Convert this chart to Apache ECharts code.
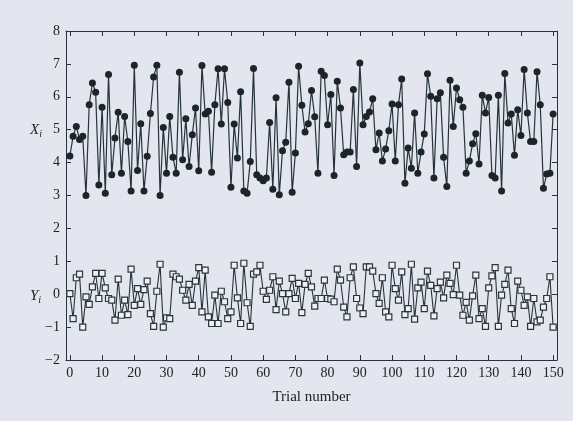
<!DOCTYPE html>
<html lang="en">
<head>
    <meta charset="UTF-8">
    <title>Trial number - X and Y</title>
    <script src="https://cdn.jsdelivr.net/npm/echarts@6/dist/echarts.min.js"></script>
</head>
<style>
    html, body {
        margin: 0;
        padding: 0;
        background-color: #e3e6ee;
    }
    #map {
        width: 573px;
        height: 421px;
    }
</style>
<body>
<div id="map"></div>
<script>
    // values, trial 0..150
    var xValues = [
        4.2, 4.8, 5.1, 4.7, 4.8, 3.0, 5.76, 6.42, 6.14, 3.32, 5.68, 3.07, 6.68, 3.63, 4.75, 5.53, 3.68, 5.4, 4.64, 3.14,
        6.96, 3.76, 5.18, 3.14, 4.19, 5.49, 6.6, 6.96, 3.0, 5.07, 3.68, 5.4, 4.16, 3.68, 6.75, 4.09, 5.33, 3.88, 4.85, 5.66,
        3.75, 6.95, 5.48, 5.56, 3.71, 5.76, 6.85, 5.17, 6.85, 5.83, 3.25, 5.17, 4.14, 6.15, 3.14, 3.07, 4.03, 6.86, 3.63, 3.53,
        3.45, 3.53, 5.22, 3.19, 5.97, 3.02, 4.36, 4.62, 6.44, 3.1, 4.29, 6.93, 5.74, 4.93, 5.18, 6.19, 5.39, 3.68, 6.78, 6.65,
        5.15, 6.07, 3.61, 6.47, 5.66, 4.24, 4.32, 4.32, 6.22, 3.88, 7.03, 5.15, 5.4, 5.54, 5.94, 4.39, 4.9, 4.05, 4.41, 4.97,
        5.78, 4.05, 5.76, 6.54, 3.37, 4.44, 3.83, 5.51, 3.68, 4.32, 4.87, 6.7, 6.02, 3.53, 5.94, 6.12, 4.16, 3.27, 6.5, 5.1,
        6.27, 5.91, 5.68, 3.68, 4.05, 4.57, 4.88, 3.96, 6.05, 5.51, 5.98, 3.61, 3.53, 6.05, 3.14, 6.71, 5.2, 5.48, 4.22, 5.61,
        4.82, 6.83, 5.51, 4.64, 4.64, 6.76, 5.76, 3.22, 3.65, 3.68, 5.48
    ];
    var yValues = [
        0.02, -0.74, 0.5, 0.61, -1.0, -0.08, -0.31, 0.22, 0.63, -0.13, 0.63, 0.19, -0.13, -0.18, -0.79, 0.46, -0.64, -0.18, -0.62, 0.76,
        -0.34, 0.17, -0.31, 0.14, 0.4, -0.59, -0.98, 0.09, 0.91, -1.0, -0.72, -0.74, 0.61, 0.53, 0.46, 0.12, -0.18, 0.3, -0.34, 0.4,
        0.81, -0.54, 0.73, -0.69, -0.89, -0.03, -0.89, 0.09, -0.23, -0.74, -0.54, 0.88, -0.11, -0.89, 0.94, -0.26, -0.98, 0.61, 0.68, 0.88,
        0.09, -0.16, 0.12, 0.53, -0.47, 0.4, 0.02, -0.54, 0.02, 0.48, -0.13, 0.33, -0.56, 0.3, 0.63, 0.22, -0.36, -0.13, -0.13, 0.43,
        -0.13, -0.15, -0.23, 0.76, 0.43, -0.39, -0.69, 0.5, 0.83, -0.13, -0.42, -0.59, 0.83, 0.83, 0.7, 0.02, -0.28, 0.5, -0.54, -0.69,
        0.88, 0.17, -0.18, 0.68, -0.62, -0.44, 0.91, -0.76, 0.19, 0.37, -0.44, 0.7, 0.27, -0.66, 0.17, 0.37, -0.11, 0.58, 0.33, -0.01,
        0.88, -0.03, -0.64, -0.25, -0.79, -0.05, 0.58, -0.74, -0.44, -0.98, 0.19, 0.56, 0.81, -0.98, -0.03, 0.3, 0.73, -0.44, -0.89, 0.4,
        0.12, -0.34, -0.08, -0.98, -0.13, -0.84, -0.79, -0.39, -0.13, 0.53, -1.0
    ];
    var xTicks = [0, 10, 20, 30, 40, 50, 60, 70, 80, 90, 100, 110, 120, 130, 140, 150];
    var yTicks = [-2, -1, 0, 1, 2, 3, 4, 5, 6, 7, 8];

    var ink = '#26333a';
    var font = 'Liberation Serif';

    function pairs(arr) {
        var out = [];
        for (var i = 0; i < arr.length; i++) {
            out.push([i, arr[i]]);
        }
        return out;
    }

    var map = echarts.init(document.getElementById('map'));

    var tickStyle = {show: true, inside: true, length: 5, lineStyle: {color: ink, width: 1}};
    var lineStyle = {show: true, onZero: false, lineStyle: {color: ink, width: 1}};
    var subLabel = {
        a: {fontFamily: font, fontStyle: 'italic', fontSize: 15, fill: '#222'},
        b: {fontFamily: font, fontStyle: 'italic', fontSize: 10, fill: '#222', padding: [8, 0, 0, 0]}
    };

    map.setOption({
        backgroundColor: '#e3e6ee',
        animation: false,
        grid: {left: 66, right: 16, top: 31, bottom: 61},
        graphic: [
            {type: 'text', left: 30, top: 123, style: {text: '{a|X}{b|i}', rich: subLabel}},
            {type: 'text', left: 30, top: 289, style: {text: '{a|Y}{b|i}', rich: subLabel}}
        ],
        xAxis: [
            {
                type: 'value', min: -1.2, max: 151.2,
                name: 'Trial number', nameLocation: 'middle', nameGap: 30,
                nameTextStyle: {fontFamily: font, fontSize: 15, color: '#222'},
                axisLine: lineStyle,
                splitLine: {show: false},
                axisLabel: {fontFamily: font, fontSize: 14, color: '#222', margin: 6, customValues: xTicks},
                axisTick: {show: true, inside: true, length: 5, lineStyle: {color: ink}, customValues: xTicks}
            },
            {
                type: 'value', min: -1.2, max: 151.2, position: 'top',
                axisLine: lineStyle,
                axisTick: {show: true, inside: true, length: 5, lineStyle: {color: ink}, customValues: xTicks},
                axisLabel: {show: false},
                splitLine: {show: false}
            }
        ],
        yAxis: [
            {
                type: 'value', min: -2, max: 8, interval: 1,
                axisLine: lineStyle,
                axisTick: tickStyle,
                splitLine: {show: false},
                axisLabel: {
                    fontFamily: font, fontSize: 14, color: '#222', margin: 6,
                    formatter: function (v) { return v < 0 ? '\u2212' + (-v) : String(v); }
                }
            },
            {
                type: 'value', min: -2, max: 8, interval: 1, position: 'right',
                axisLine: lineStyle,
                axisTick: tickStyle,
                axisLabel: {show: false},
                splitLine: {show: false}
            }
        ],
        series: [
            {
                name: 'X', type: 'line', data: pairs(xValues),
                symbol: 'circle', symbolSize: 7, showAllSymbol: true,
                lineStyle: {color: ink, width: 1.2},
                itemStyle: {color: '#1c2529', borderColor: '#1c2529', borderWidth: 0}
            },
            {
                name: 'Y', type: 'line', data: pairs(yValues),
                symbol: 'rect', symbolSize: 6, showAllSymbol: true,
                lineStyle: {color: ink, width: 1.1},
                itemStyle: {color: '#eef0f4', borderColor: '#2a363c', borderWidth: 1.2}
            }
        ]
    });
</script>
</body>
</html>
